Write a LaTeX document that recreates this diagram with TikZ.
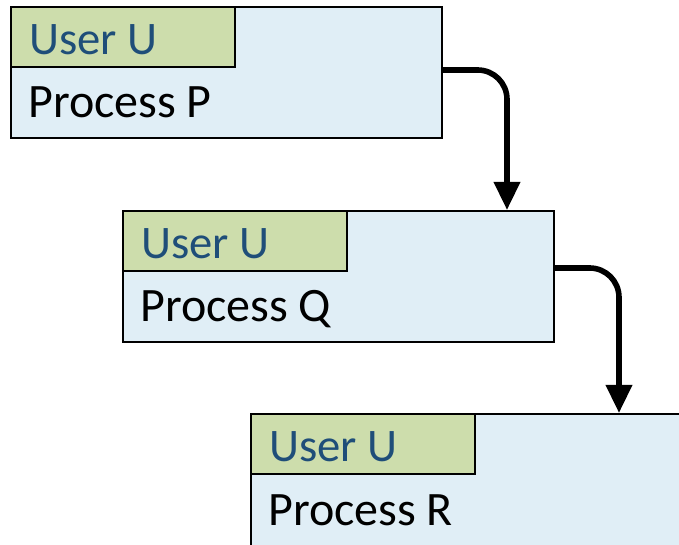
\documentclass[tikz,border=0pt]{standalone}
\usepackage{fontspec}
\setmainfont{Carlito}
\usetikzlibrary{arrows.meta,positioning}
\definecolor{tagGreen}{HTML}{CDDDAC}
\definecolor{procBlue}{HTML}{E0EEF6}
\definecolor{userBlue}{HTML}{1F4E79}
\tikzset{
  procbox/.style={draw, line width=1.5pt, fill=procBlue, anchor=north west,
    minimum width=323.25pt, minimum height=98.25pt, inner sep=0pt},
  usertag/.style={draw, line width=1.5pt, fill=tagGreen, anchor=north west,
    minimum width=168pt, minimum height=45pt, inner sep=0pt},
  usertext/.style={anchor=base west, inner sep=0pt, text=userBlue,
    font=\fontsize{35}{42}\selectfont},
  proctext/.style={anchor=base west, inner sep=0pt,
    font=\fontsize{36}{43}\selectfont},
  flow/.style={line width=4.2pt, rounded corners=22pt,
    -{Triangle[length=21pt,width=19pt]}}
}
\begin{document}
\begin{tikzpicture}[x=0.75pt,y=-0.75pt]
    \useasboundingbox (0,0) rectangle (679,545);
    % process P
    \node[procbox] (P) at (10,6) {};
    \node[usertag] (tagP) at (10,6) {};
    \node[usertext] (userP) at (29,55) {User U};
    \node[proctext] (procP) at (28,118) {Process P};
    % process Q
    \node[procbox] (Q) at (122,210) {};
    \node[usertag] (tagQ) at (122,210) {};
    \node[usertext] (userQ) at (141,259) {User U};
    \node[proctext] (procQ) at (140,322) {Process Q};
    % process R (runs off the page)
    \node[procbox, minimum width=330pt, minimum height=105pt] (R) at (250,413) {};
    \node[usertag] (tagR) at (250,413) {};
    \node[usertext] (userR) at (269,462) {User U};
    \node[proctext] (procR) at (268,525) {Process R};
    % connectors
    \coordinate (outP) at (441,70);
    \coordinate (inQ) at (507,210);
    \coordinate (outQ) at (553,268);
    \coordinate (inR) at (619,413);
    \draw[flow] (outP) -| (inQ);
    \draw[flow] (outQ) -| (inR);
\end{tikzpicture}
\end{document}
